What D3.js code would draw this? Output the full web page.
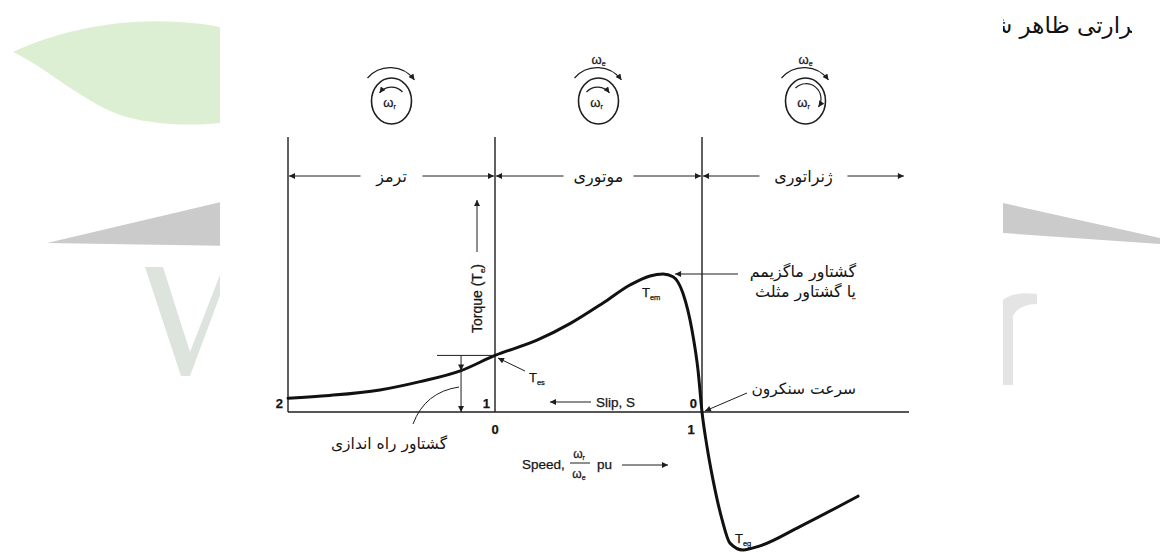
<!DOCTYPE html>
<html>
<head>
<meta charset="utf-8">
<script src="https://cdn.jsdelivr.net/npm/d3@7"></script>
<style>
  body { margin: 0; background: #fff; }
  svg { display: block; }
  .lat { font-family: "Liberation Sans", Arial, sans-serif; fill: #151515; stroke: #151515; stroke-width: 0.25; }
  .fa { font-family: "DejaVu Sans", "Noto Sans", sans-serif; fill: #151515; }
</style>
</head>
<body>
<svg id="chart" width="1160" height="553"></svg>
<script>
// torque-speed curve (speed in pu, torque in pu of Tem)
var speeds  = [-1.00, -0.80, -0.556, -0.362, -0.164, 0.00, 0.203, 0.362, 0.522, 0.652, 0.749, 0.812, 0.860, 0.908, 0.952, 0.981, 1.000, 1.024, 1.053, 1.097, 1.135, 1.198, 1.280, 1.473, 1.754];
var torques = [ 0.10,  0.12,  0.16,  0.22,  0.30, 0.41, 0.52, 0.64, 0.79, 0.92, 0.986, 1.00, 0.98, 0.86, 0.59, 0.30, 0.00, -0.25, -0.49, -0.78, -0.95, -1.00, -0.97, -0.83, -0.61];

var slipTickSpeeds = [-1, 0, 1];
var slipTickLabels = ['2', '1', '0'];
var speedTickSpeeds = [0, 1];
var speedTickLabels = ['0', '1'];

var regionNames = ['ترمز', 'موتوری', 'ژنراتوری'];
var regionFrom = [-1, 0, 1];
var regionTo = [0, 1, 1.98];

var maxTorqueLines = ['گشتاور ماگزیمم', 'یا گشتاور مثلث'];
var syncLabel = 'سرعت سنکرون';
var startLabel = 'گشتاور راه اندازی';
var headerText = 'حرارتی ظاهر شد';

var svg = d3.select('#chart');

// ---- watermark behind the picture ----
var wm = svg.append('g').attr('class', 'watermark');
wm.append('clipPath').attr('id', 'leftClip').append('rect')
    .attr('x', 0).attr('y', 0).attr('width', 220).attr('height', 553);
var wl = wm.append('g').attr('clip-path', 'url(#leftClip)');
wl.append('path')
    .attr('d', 'M13,52 C60,30 120,18 180,22 C210,24 230,28 240,35 L240,120 C200,128 150,125 120,115 C80,100 50,70 13,52 Z')
    .attr('fill', '#dcefd3');
wl.append('path')
    .attr('d', 'M47,243 L230,200 L230,246 Z')
    .attr('fill', '#cbcbcb');
wl.append('path')
    .attr('d', 'M145,267 L163,267 L190,352 L225,262 L225,282 L190,376 L181,376 Z')
    .attr('fill', '#dde3dd');
wm.append('path')
    .attr('d', 'M1003,203 L1160,238 L1160,244 L1003,233 Z')
    .attr('fill', '#cbcbcb');
wm.append('path')
    .attr('d', 'M1003,300 Q1014,291 1037,294 L1037,304 Q1019,304 1013,316 L1013,385 L1003,385 Z')
    .attr('fill', '#e4e4e4');

wm.append('clipPath').attr('id', 'headClip').append('rect')
    .attr('x', 1003).attr('y', 0).attr('width', 129).attr('height', 60);
wm.append('text')
    .attr('clip-path', 'url(#headClip)')
    .attr('x', 1147).attr('y', 33)
    .attr('text-anchor', 'end')
    .attr('font-family', '"DejaVu Sans", serif')
    .attr('font-size', 23)
    .attr('fill', '#111')
    .text(headerText);

// ---- the diagram ----
var x = d3.scaleLinear().domain([0, 1]).range([495, 702]);
var y = d3.scaleLinear().domain([0, 1]).range([412, 274]);
var yTop = 137;
var ink = '#1e1e1e';

var defs = svg.append('defs');
defs.append('marker')
    .attr('id', 'head')
    .attr('viewBox', '0 0 10 10')
    .attr('refX', 10).attr('refY', 5)
    .attr('markerWidth', 9).attr('markerHeight', 6)
    .attr('markerUnits', 'userSpaceOnUse')
    .attr('orient', 'auto')
    .append('path').attr('d', 'M0,0 L10,5 L0,10 Z').attr('fill', ink);

var g = svg.append('g');

// horizontal axis
g.append('line')
    .attr('x1', x(-1)).attr('x2', x(2.0))
    .attr('y1', y(0)).attr('y2', y(0))
    .attr('stroke', ink).attr('stroke-width', 1.4);

// vertical boundaries
g.selectAll('.vline').data(slipTickSpeeds).enter().append('line')
    .attr('class', 'vline')
    .attr('x1', function(d) { return x(d); }).attr('x2', function(d) { return x(d); })
    .attr('y1', yTop).attr('y2', y(0))
    .attr('stroke', ink).attr('stroke-width', 1.4);

// tick labels
g.selectAll('.slipTick').data(slipTickSpeeds).enter().append('text')
    .attr('class', 'lat slipTick')
    .attr('x', function(d) { return x(d) - 5; })
    .attr('y', y(0) - 4)
    .attr('text-anchor', 'end')
    .attr('font-size', 13).attr('font-weight', 'bold')
    .text(function(d, i) { return slipTickLabels[i]; });
g.selectAll('.speedTick').data(speedTickSpeeds).enter().append('text')
    .attr('class', 'lat speedTick')
    .attr('x', function(d) { return d === 1 ? x(d) - 11 : x(d); })
    .attr('y', y(0) + 22)
    .attr('text-anchor', 'middle')
    .attr('font-size', 13).attr('font-weight', 'bold')
    .text(function(d, i) { return speedTickLabels[i]; });

// region arrows
var gaps = [31, 35, 44];
var arrowY = 176;
regionNames.forEach(function(name, i) {
    var x0 = x(regionFrom[i]), x1 = x(regionTo[i]);
    var cx = (x(regionFrom[i]) + x(Math.min(regionTo[i], regionFrom[i] + 1))) / 2;
    g.append('line')
        .attr('x1', cx - gaps[i]).attr('x2', x0 + 1)
        .attr('y1', arrowY).attr('y2', arrowY)
        .attr('stroke', ink).attr('stroke-width', 1)
        .attr('marker-end', 'url(#head)');
    g.append('line')
        .attr('x1', cx + gaps[i]).attr('x2', x1 - 1)
        .attr('y1', arrowY).attr('y2', arrowY)
        .attr('stroke', ink).attr('stroke-width', 1)
        .attr('marker-end', 'url(#head)');
    g.append('text')
        .attr('class', 'fa')
        .attr('x', cx).attr('y', arrowY + 6)
        .attr('text-anchor', 'middle')
        .attr('font-size', 16)
        .text(name);
});

// rotating field icons above each region
var iconY = 101;
regionNames.forEach(function(name, i) {
    var cx = (x(regionFrom[i]) + x(regionFrom[i] + 1)) / 2;
    var ic = g.append('g').attr('transform', 'translate(' + cx + ',' + iconY + ')');
    ic.append('ellipse').attr('rx', 20).attr('ry', 23)
        .attr('fill', 'none').attr('stroke', ink).attr('stroke-width', 1.6);
    // stator field arc
    ic.append('path')
        .attr('d', 'M-24,-23 A30,30 0 0 1 23,-21')
        .attr('fill', 'none').attr('stroke', ink).attr('stroke-width', 1.2)
        .attr('marker-end', 'url(#head)');
    // rotor arc
    var rotor;
    if (i === 0) rotor = 'M11,-9 A15,15 0 0 0 -12,-8';
    else if (i === 1) rotor = 'M-12,-9 A15,15 0 0 1 11,-8';
    else rotor = 'M-10,-13 A15,15 0 0 1 13,6';
    ic.append('path')
        .attr('d', rotor)
        .attr('fill', 'none').attr('stroke', ink).attr('stroke-width', 1.2)
        .attr('marker-end', 'url(#head)');
    var wr = ic.append('text').attr('class', 'lat')
        .attr('x', -2).attr('y', 6).attr('font-size', 13).attr('text-anchor', 'middle');
    wr.append('tspan').text('ω');
    wr.append('tspan').attr('font-size', 7).attr('dy', 2).text('r');
    if (i > 0) {
        var we = ic.append('text').attr('class', 'lat')
            .attr('x', 0).attr('y', -37).attr('font-size', 13).attr('text-anchor', 'middle');
        we.append('tspan').text('ω');
        we.append('tspan').attr('font-size', 7).attr('dy', 2).text('e');
    }
});

// torque-speed curve
var curve = d3.line()
    .x(function(d, i) { return x(speeds[i]); })
    .y(function(d, i) { return y(torques[i]); })
    .curve(d3.curveMonotoneX);
g.append('path')
    .attr('d', curve(speeds))
    .attr('fill', 'none').attr('stroke', '#111').attr('stroke-width', 3)
    .attr('stroke-linejoin', 'round').attr('stroke-linecap', 'round');

// starting torque marker
var tes = torques[speeds.indexOf(0)];
var dimX = x(-0.164);
g.append('line')
    .attr('x1', x(-0.28)).attr('x2', x(0))
    .attr('y1', y(tes)).attr('y2', y(tes))
    .attr('stroke', ink).attr('stroke-width', 1);
g.append('line')
    .attr('x1', dimX).attr('x2', dimX)
    .attr('y1', y(tes)).attr('y2', y(0.30))
    .attr('stroke', ink).attr('stroke-width', 1)
    .attr('marker-end', 'url(#head)');
g.append('line')
    .attr('x1', dimX).attr('x2', dimX)
    .attr('y1', y(0.30)).attr('y2', y(0))
    .attr('stroke', ink).attr('stroke-width', 1)
    .attr('marker-end', 'url(#head)');
g.append('path')
    .attr('d', 'M413,424 Q425,392 ' + (dimX - 2) + ',387')
    .attr('fill', 'none').attr('stroke', ink).attr('stroke-width', 1);
g.append('text').attr('class', 'fa')
    .attr('x', 389).attr('y', 449).attr('text-anchor', 'middle')
    .attr('font-size', 15.5).text(startLabel);

// subscript labels T_es, T_em, T_eg
function tLabel(px, py, sub) {
    var t = g.append('text').attr('class', 'lat')
        .attr('x', px).attr('y', py).attr('font-size', 13);
    t.append('tspan').text('T');
    t.append('tspan').attr('font-size', 7.5).attr('dy', 3).text(sub);
}
tLabel(529, 382, 'es');
tLabel(642, 297, 'em');
tLabel(735, 543, 'eg');

g.append('line')
    .attr('x1', 525).attr('x2', 498)
    .attr('y1', 371).attr('y2', 358)
    .attr('stroke', ink).attr('stroke-width', 1)
    .attr('marker-end', 'url(#head)');

// max torque callout
g.append('line')
    .attr('x1', 738).attr('x2', x(0.87))
    .attr('y1', y(1)).attr('y2', y(1))
    .attr('stroke', ink).attr('stroke-width', 1)
    .attr('marker-end', 'url(#head)');
maxTorqueLines.forEach(function(s, i) {
    g.append('text').attr('class', 'fa')
        .attr('x', 856).attr('y', 277 + i * 20)
        .attr('text-anchor', 'end').attr('font-size', 16).text(s);
});

// synchronous speed callout
g.append('line')
    .attr('x1', 747).attr('x2', x(1) + 3)
    .attr('y1', 393).attr('y2', y(0) - 1)
    .attr('stroke', ink).attr('stroke-width', 1)
    .attr('marker-end', 'url(#head)');
g.append('text').attr('class', 'fa')
    .attr('x', 856).attr('y', 394)
    .attr('text-anchor', 'end').attr('font-size', 15.5).text(syncLabel);

// slip direction
g.append('line')
    .attr('x1', 591).attr('x2', 550)
    .attr('y1', 402).attr('y2', 402)
    .attr('stroke', ink).attr('stroke-width', 1)
    .attr('marker-end', 'url(#head)');
g.append('text').attr('class', 'lat')
    .attr('x', 596).attr('y', 407).attr('font-size', 13.5).text('Slip, S');

// speed label with fraction
var sp = g.append('g');
sp.append('text').attr('class', 'lat')
    .attr('x', 522).attr('y', 469).attr('font-size', 13.5).text('Speed,');
var num = sp.append('text').attr('class', 'lat')
    .attr('x', 579).attr('y', 458).attr('font-size', 12).attr('text-anchor', 'middle');
num.append('tspan').text('ω');
num.append('tspan').attr('font-size', 7).attr('dy', 2).text('r');
sp.append('line').attr('x1', 570).attr('x2', 590).attr('y1', 463).attr('y2', 463)
    .attr('stroke', ink).attr('stroke-width', 1);
var den = sp.append('text').attr('class', 'lat')
    .attr('x', 579).attr('y', 478).attr('font-size', 12).attr('text-anchor', 'middle');
den.append('tspan').text('ω');
den.append('tspan').attr('font-size', 7).attr('dy', 2).text('e');
sp.append('text').attr('class', 'lat')
    .attr('x', 597).attr('y', 469).attr('font-size', 13.5).text('pu');
sp.append('line').attr('x1', 622).attr('x2', 668).attr('y1', 465).attr('y2', 465)
    .attr('stroke', ink).attr('stroke-width', 1)
    .attr('marker-end', 'url(#head)');

// torque axis label (vertical)
var tq = g.append('text').attr('class', 'lat')
    .attr('transform', 'translate(482,333) rotate(-90)')
    .attr('font-size', 14);
tq.append('tspan').text('Torque (T');
tq.append('tspan').attr('font-size', 8).attr('dy', 3).text('e');
tq.append('tspan').attr('dy', -3).text(')');
g.append('line').attr('x1', 477).attr('x2', 477).attr('y1', 252).attr('y2', 200)
    .attr('stroke', ink).attr('stroke-width', 1)
    .attr('marker-end', 'url(#head)');
</script>
</body>
</html>
